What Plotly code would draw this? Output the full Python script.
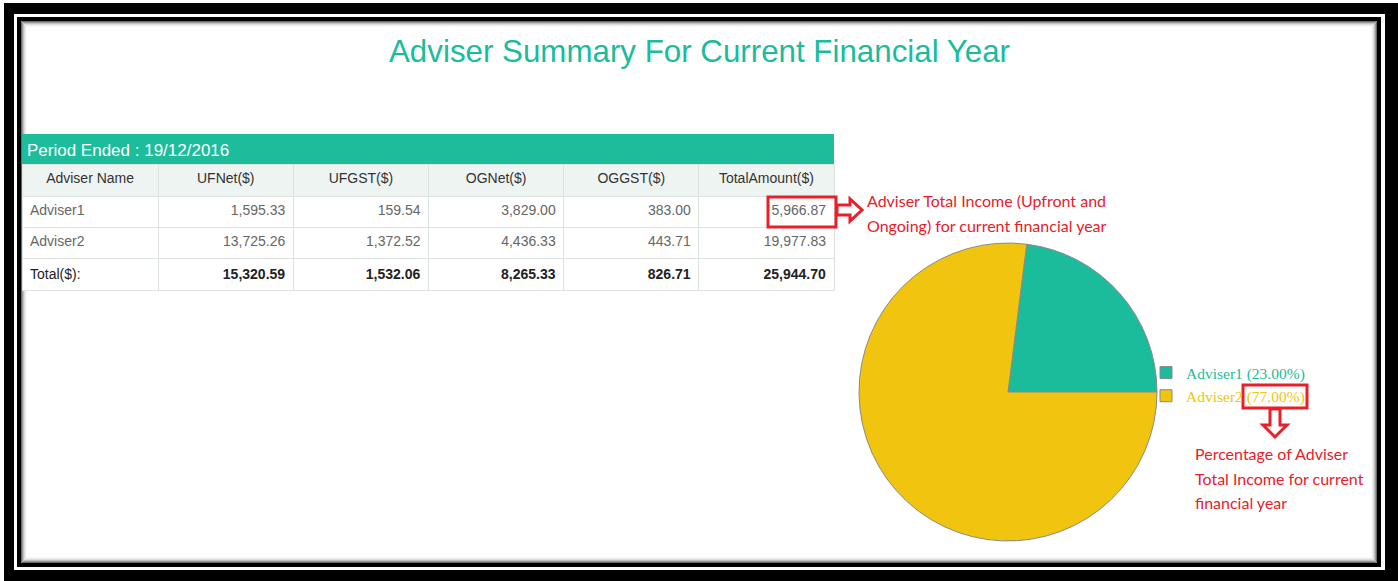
import plotly.graph_objects as go

W, H = 1398, 581
TEAL = '#1ABC9C'
YELLOW = '#F1C40F'
RED = '#E8202A'

# table data
COLUMNS = ['Adviser Name', 'UFNet($)', 'UFGST($)', 'OGNet($)', 'OGGST($)', 'TotalAmount($)']
ADVISERS = ['Adviser1', 'Adviser2']
UF_NET = [1595.33, 13725.26]
UF_GST = [159.54, 1372.52]
OG_NET = [3829.00, 4436.33]
OG_GST = [383.00, 443.71]
TOTAL_AMOUNT = [5966.87, 19977.83]
PERIOD = '19/12/2016'


def px(x):
    return x / W


def py(y):
    return 1 - y / H


def money_col(vals):
    out = [f'{v:,.2f}' for v in vals]
    out.append(f'<b>{round(sum(vals), 2):,.2f}</b>')
    return out


cell_values = [ADVISERS + ['<span>Total($):</span>']] + \
    [money_col(v) for v in (UF_NET, UF_GST, OG_NET, OG_GST, TOTAL_AMOUNT)]
row_colors = ['#666666', '#666666', '#222222']

fig = go.Figure()

fig.add_trace(go.Table(
    domain=dict(x=[px(22), px(834)], y=[py(293), py(164)]),
    columnwidth=[136, 135, 135, 135, 135, 135],
    header=dict(values=COLUMNS, fill_color='#EEF4F2', line=dict(color='#DCE3E1', width=1),
                align='center', height=32,
                font=dict(family='Liberation Sans', size=14, color='#333333')),
    cells=dict(values=cell_values, fill_color='white', line=dict(color='#DCE3E1', width=1),
               align=['left'] + ['right'] * 5, height=31,
               font=dict(family='Liberation Sans', size=14, color=[row_colors] * 6)),
))

total = sum(TOTAL_AMOUNT)
pct = [v / total * 100 for v in TOTAL_AMOUNT]
labels = [f"<span style='color:{c}'>{n} ({p:.2f}%)</span>" for n, p, c in zip(ADVISERS, pct, [TEAL, YELLOW])]

# first slice sits just above 3 o'clock, rest goes counterclockwise
fig.add_trace(go.Pie(
    labels=labels, values=TOTAL_AMOUNT, sort=False, direction='counterclockwise',
    rotation=90 - pct[0] * 3.6,
    marker=dict(colors=[TEAL, YELLOW], line=dict(color='#8a8a8a', width=1)),
    textinfo='none', hoverinfo='label+value',
    domain=dict(x=[px(859), px(1157)], y=[py(541), py(243)]),
))

# frame
shapes = [
    dict(type='rect', x0=px(4), x1=1, y0=0, y1=py(3), fillcolor='black', line_width=0),
    dict(type='rect', x0=px(14), x1=px(1385), y0=py(570), y1=py(14), fillcolor='white', line_width=0),
    dict(type='rect', x0=px(17), x1=px(1381), y0=py(567), y1=py(17), fillcolor='black', line_width=0),
    dict(type='rect', x0=px(21), x1=px(1377), y0=py(563), y1=py(21), fillcolor='white', line_width=0),
]
for i, g in enumerate(['#6a6a6a', '#9a9a9a', '#c0c0c0', '#dcdcdc', '#eeeeee', '#f7f7f7']):
    shapes.append(dict(type='rect', x0=px(21.5 + i), x1=px(1376.5 - i), y0=py(562.5 - i), y1=py(21.5 + i),
                       line=dict(color=g, width=1), fillcolor='rgba(0,0,0,0)'))
for s in shapes:
    s.update(xref='paper', yref='paper', layer='below')

# period band
shapes.append(dict(type='rect', xref='paper', yref='paper', x0=px(22), x1=px(834), y0=py(165), y1=py(134),
                   fillcolor='#1DBC9B', line_width=0, layer='below'))


def path(points):
    return 'M ' + ' L '.join(f'{px(x)},{py(y)}' for x, y in points) + ' Z'


# red callouts
red = dict(xref='paper', yref='paper', line=dict(color=RED, width=3), fillcolor='rgba(0,0,0,0)', layer='above')
shapes.append(dict(type='rect', x0=px(768), x1=px(836), y0=py(227), y1=py(197), **red))
shapes.append(dict(type='rect', x0=px(1243), x1=px(1307), y0=py(408), y1=py(385), **red))
shapes.append(dict(type='path', path=path([(837, 205), (850, 205), (850, 199), (862, 210), (850, 221),
                                           (850, 215), (837, 215)]), **red))
shapes.append(dict(type='path', path=path([(1270, 409), (1280, 409), (1280, 425), (1287, 425), (1275, 437),
                                           (1263, 425), (1270, 425)]), **red))

annotations = [
    dict(text='Adviser Summary For Current Financial Year', x=0.5, y=py(51), xanchor='center', yanchor='middle',
         font=dict(family='Liberation Sans', size=31.3, color=TEAL)),
    dict(text='Period Ended : ' + PERIOD, x=px(25), y=py(151), xanchor='left', yanchor='middle',
         font=dict(family='Liberation Sans', size=17, color='white')),
]
callouts = [
    (865, 201, 'Adviser Total Income (Upfront and'),
    (865, 225, 'Ongoing) for current financial year'),
    (1193, 453, 'Percentage of Adviser'),
    (1193, 478, 'Total Income for current'),
    (1193, 502, 'financial year'),
]
for x, y, t in callouts:
    annotations.append(dict(text=t, x=px(x), y=py(y), xanchor='left', yanchor='middle',
                            font=dict(family='Lato', size=16, color=RED)))
for a in annotations:
    a.update(xref='paper', yref='paper', showarrow=False)

fig.update_layout(
    width=W, height=H,
    margin=dict(l=0, r=0, t=0, b=0, pad=0),
    paper_bgcolor='white', plot_bgcolor='white',
    shapes=shapes, annotations=annotations,
    showlegend=True,
    legend=dict(x=px(1146), y=py(356), xanchor='left', yanchor='top', bgcolor='rgba(0,0,0,0)',
                itemwidth=30, font=dict(family='Liberation Serif', size=15.5, color='#333333'),
                tracegroupgap=0),
)

fig.write_html('out.html', config={'displayModeBar': False},
               post_script="document.body.style.margin='0';document.body.style.overflow='hidden';")
